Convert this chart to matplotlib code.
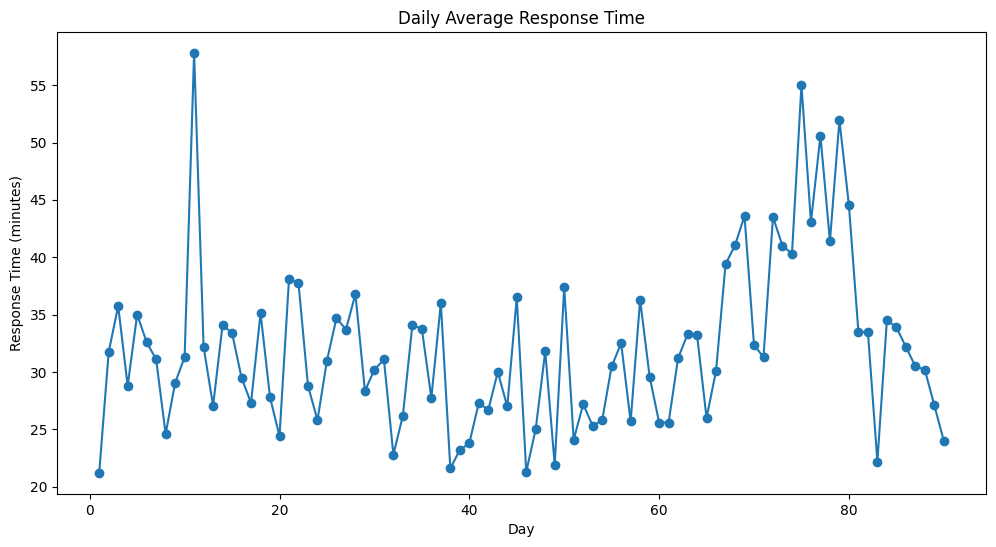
import matplotlib
matplotlib.use("Agg")
import matplotlib.pyplot as plt

days = list(range(1, 91))
response_time = [
    21.2, 31.75, 35.75, 28.8, 35.0, 32.6, 31.1, 24.6, 29.05, 31.3,
    57.8, 32.2, 27.05, 34.1, 33.4, 29.5, 27.3, 35.15, 27.8, 24.4,
    38.1, 37.75, 28.8, 25.8, 31.0, 34.7, 33.7, 36.8, 28.35, 30.2,
    31.1, 22.8, 26.2, 34.1, 33.75, 27.75, 36.0, 21.6, 23.2, 23.8,
    27.3, 26.7, 30.0, 27.0, 36.5, 21.3, 25.05, 31.8, 21.9, 37.4,
    24.1, 27.2, 25.3, 25.8, 30.5, 32.5, 25.7, 36.3, 29.6, 25.6,
    25.6, 31.2, 33.3, 33.2, 26.0, 30.1, 39.4, 41.05, 43.6, 32.35,
    31.3, 43.5, 41.0, 40.3, 55.0, 43.05, 50.6, 41.4, 51.95, 44.55,
    33.5, 33.5, 22.2, 34.5, 33.9, 32.2, 30.5, 30.2, 27.1, 24.0,
]

fig = plt.figure(figsize=(9.96, 5.47), dpi=100)
ax = fig.add_axes([0.0572, 0.0969, 0.9328, 0.8446])
ax.plot(days, response_time, marker='o', color='#1f77b4')
ax.set_title("Daily Average Response Time")
ax.set_xlabel("Day")
ax.set_ylabel("Response Time (minutes)")
fig.savefig("out.png", dpi=100)
